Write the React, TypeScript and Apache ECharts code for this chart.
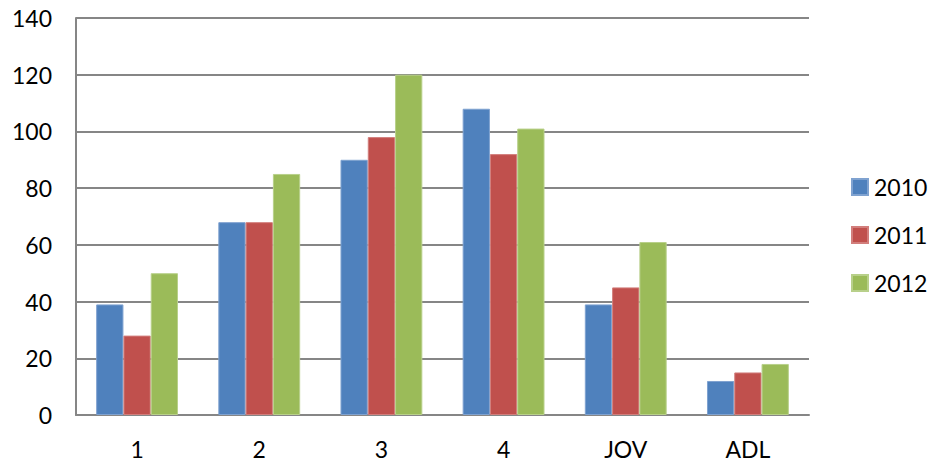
import React, { useEffect, useRef } from "react";
import * as echarts from "echarts";

const categories = ["1", "2", "3", "4", "JOV", "ADL"];
const seriesNames = ["2010", "2011", "2012"];
const values2010 = [39, 68, 90, 108, 39, 12];
const values2011 = [28, 68, 98, 92, 45, 15];
const values2012 = [50, 85, 120, 101, 61, 18];
const colors = ["#4F81BD", "#C0504D", "#9BBB59"];
const borderColors = ["#7FA2D0", "#D27E7C", "#B8D08A"];
const FONT = "Lato";

export default function App() {
  const ref = useRef<HTMLDivElement>(null);
  useEffect(() => {
    document.body.style.margin = "0";
    const chart = echarts.init(ref.current!, null, { renderer: "svg" });
    const data = [values2010, values2011, values2012];
    chart.setOption({
      animation: false,
      backgroundColor: "#ffffff",
      textStyle: { fontFamily: FONT },
      grid: { left: 76, right: 120, top: 18, bottom: 46, containLabel: false },
      legend: {
        orient: "vertical",
        left: 851,
        top: 175,
        padding: 0,
        itemWidth: 16,
        itemHeight: 16,
        itemGap: 24,
        icon: "rect",
        data: seriesNames,
        textStyle: { fontSize: 23, color: "#000", fontFamily: FONT, lineHeight: 24, padding: [0, 0, 0, 1] },
      },
      xAxis: {
        type: "category",
        data: categories,
        axisLine: { lineStyle: { color: "#868686", width: 2 } },
        axisTick: { show: false },
        axisLabel: { color: "#000", fontSize: 23, fontFamily: FONT, margin: 22 },
      },
      yAxis: {
        type: "value",
        min: 0,
        max: 140,
        interval: 20,
        axisLine: { show: true, lineStyle: { color: "#868686", width: 2 } },
        axisTick: { show: false },
        splitLine: { lineStyle: { color: "#868686", width: 2 } },
        axisLabel: { color: "#000", fontSize: 23, fontFamily: FONT, margin: 24 },
      },
      series: seriesNames.map((name, i) => ({
        name,
        type: "bar",
        data: data[i],
        barGap: "0%",
        barCategoryGap: "33%",
        itemStyle: { color: colors[i], borderColor: borderColors[i], borderWidth: 1 },
      })),
    });
    return () => chart.dispose();
  }, []);
  return <div ref={ref} style={{ width: 929, height: 461 }} />;
}
